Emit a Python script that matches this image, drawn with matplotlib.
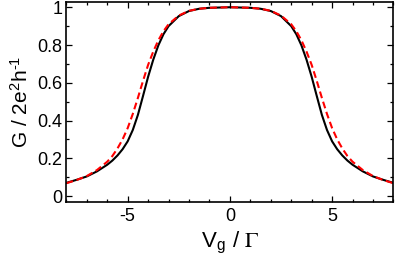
import matplotlib
matplotlib.use("Agg")
import matplotlib.pyplot as plt
from matplotlib.ticker import MultipleLocator

plt.rcParams['font.family'] = ['Liberation Sans', 'DejaVu Sans']
plt.rcParams['mathtext.fontset'] = 'stix'

# gate voltage (units of Gamma)
vg = [-8, -7.5, -7, -6.5, -6, -5.75, -5.5, -5.25, -5, -4.75, -4.5, -4.25,
      -4, -3.75, -3.5, -3.25, -3, -2.5, -2, -1.5, -1, 0,
      1, 1.5, 2, 2.5, 3, 3.25, 3.5, 3.75, 4, 4.25, 4.5, 4.75, 5, 5.25, 5.5,
      5.75, 6, 6.5, 7, 7.5, 8]

# conductance, solid black curve
g_solid = [0.070, 0.086, 0.104, 0.131, 0.166, 0.188, 0.215, 0.248, 0.290,
           0.350, 0.430, 0.530, 0.632, 0.722, 0.798, 0.857, 0.900, 0.953,
           0.980, 0.992, 0.997, 1.000,
           0.997, 0.992, 0.980, 0.953, 0.900, 0.857, 0.798, 0.722, 0.632,
           0.530, 0.430, 0.350, 0.290, 0.248, 0.215, 0.188, 0.166, 0.131,
           0.104, 0.086, 0.070]

# conductance, dashed red curve
g_dashed = [0.068, 0.085, 0.106, 0.138, 0.182, 0.212, 0.252, 0.300, 0.360,
            0.435, 0.520, 0.610, 0.695, 0.765, 0.825, 0.873, 0.910, 0.956,
            0.981, 0.992, 0.997, 1.000,
            0.997, 0.992, 0.981, 0.956, 0.910, 0.873, 0.825, 0.765, 0.695,
            0.610, 0.520, 0.435, 0.360, 0.300, 0.252, 0.212, 0.182, 0.138,
            0.106, 0.085, 0.068]

yticks = [0, 0.2, 0.4, 0.6, 0.8, 1]
ytick_labels = ['0', '0.2', '0.4', '0.6', '0.8', '1']
xticks = [-5, 0, 5]
xtick_labels = ['-5', '0', '5']

fig = plt.figure(figsize=(3.95, 2.62), dpi=100)
ax = fig.add_axes([0.168, 0.230, 0.828, 0.764])

ax.plot(vg, g_solid, color='black', lw=1.5)
ax.plot(vg, g_dashed, color='#ff0000', lw=1.5, ls=(0, (3.3, 1.8)))

ax.set_xlim(-8, 8)
ax.set_ylim(-0.03, 1.03)
ax.set_xticks(xticks)
ax.set_xticklabels(xtick_labels)
ax.set_yticks(yticks)
ax.set_yticklabels(ytick_labels)
ax.xaxis.set_minor_locator(MultipleLocator(1))
ax.yaxis.set_minor_locator(MultipleLocator(0.1))
ax.tick_params(which='both', direction='in', top=True, right=True,
               labelsize=13, width=0.9)
ax.tick_params(which='major', length=4.5)
ax.tick_params(which='minor', length=2.5)
ax.tick_params(axis='x', pad=4.5)
ax.tick_params(axis='y', pad=3)
for s in ax.spines.values():
    s.set_linewidth(1.2)

ax.set_xlabel(r'V$_\mathregular{g}$ / $\Gamma$', fontsize=16, labelpad=3)
ax.set_ylabel('G / 2e$^\\mathregular{2}$h$^\\mathregular{\u20101}$',
              fontsize=15, labelpad=4)

fig.savefig('out.png', dpi=100)
